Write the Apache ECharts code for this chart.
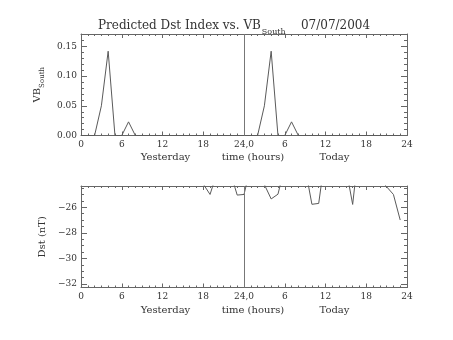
<!DOCTYPE html>
<html>
<head>
<meta charset="utf-8">
<script src="https://cdn.jsdelivr.net/npm/echarts@6/dist/echarts.min.js"></script>
<style>
html,body{margin:0;padding:0;background:#fff;}
#chart{width:453px;height:340px;}
</style>
</head>
<body>
<div id="chart"></div>
<script>
// hours across yesterday (0-23) and today (24-47)
const hours = [0,1,2,3,4,5,6,7,8,9,10,11,12,13,14,15,16,17,18,19,20,21,22,23,
               24,25,26,27,28,29,30,31,32,33,34,35,36,37,38,39,40,41,42,43,44,45,46,47];
// VB_South values
const vbSouth = [0,0,0,0.05,0.142,0,0,0.023,0,0,0,0,0,0,0,0,0,0,0,0,0,0,0,0,
                 0,0,0,0.05,0.142,0,0,0.023,0,0,0,0,0,0,0,0,0,0,0,0,0,0,0,0];
// Predicted Dst (nT)
const dst = [-21,-21,-20,-20,-21,-22,-22,-21,-21,-22,-22,-22,-23,-23,-22,-22,-23,-23,
             -24.18,-25.0,-23.35,-23.5,-23.28,-25.05,
             -25.0,-22.8,-23.5,-24.23,-25.35,-24.98,-22.85,-22.5,-22.5,-22.91,-25.77,-25.7,
             -21.8,-22,-22.5,-22.9,-25.78,-21.0,-22,-23,-23.8,-24.4,-25.0,-27.0];
const xTickLabels = {0:'0',6:'6',12:'12',18:'18',24:'24,0',30:'6',36:'12',42:'18',48:'24'};
const dividerHour = [24];
const title = 'Predicted Dst Index vs. VB';
const titleSub = 'South';
const titleDate = '07/07/2004';
const xNames = ['Yesterday','time (hours)','Today'];

const FONT = 'DejaVu Serif';
const TXT = '#333';
const AX = '#666';
const LN = '#5a5a5a';

function xAxes(grid){
  const base = {
    gridIndex: grid, type:'value', min:0, max:48, interval:6,
    axisLine:{show:true, onZero:false, lineStyle:{color:AX,width:1}},
    axisTick:{show:true, inside:true, length:4, lineStyle:{color:AX}},
    minorTick:{show:true, splitNumber:6, length:2, lineStyle:{color:AX}},
    splitLine:{show:false}
  };
  return [
    Object.assign({}, base, {position:'bottom',
      axisLabel:{show:true, margin:5, fontFamily:FONT, fontSize:9, color:TXT,
        formatter:v=>xTickLabels[v]!==undefined?xTickLabels[v]:''}}),
    Object.assign({}, base, {position:'top', axisLabel:{show:false}})
  ];
}
function yAxes(grid, opts, labelFmt, name){
  const base = Object.assign({
    gridIndex: grid, type:'value',
    axisLine:{show:true, onZero:false, lineStyle:{color:AX,width:1}},
    axisTick:{show:true, inside:true, length:6, lineStyle:{color:AX}},
    splitLine:{show:false}
  }, opts);
  return [
    Object.assign({}, base, {position:'left',
      axisLabel:{show:true, margin:4, fontFamily:FONT, fontSize:9, color:TXT,
        showMinLabel: opts.min===0, showMaxLabel:false, formatter:labelFmt},
      name:name, nameLocation:'middle', nameRotate:90, nameGap:30,
      nameTextStyle:{fontFamily:FONT, fontSize:10, color:TXT,
        rich:{m:{fontFamily:FONT,fontSize:10,color:TXT,lineHeight:12,verticalAlign:'top'},
              s:{fontFamily:FONT,fontSize:7,color:TXT,lineHeight:8,padding:[7,0,0,0],verticalAlign:'top'}}}
    }),
    Object.assign({}, base, {position:'right', axisLabel:{show:false}})
  ];
}

const chart = echarts.init(document.getElementById('chart'), null, {renderer:'canvas'});
const divider = {
  silent:true, symbol:['none','none'], label:{show:false},
  lineStyle:{type:'solid', color:'#777', width:1},
  data: dividerHour.map(h=>({xAxis:h}))
};
chart.setOption({
  animation:false,
  backgroundColor:'#fff',
  title:{
    text:'{m|'+title+'}{s|'+titleSub+'}{m|    '+titleDate+'}',
    left:98, top:20, padding:0,
    textStyle:{fontFamily:FONT, fontSize:12, fontWeight:'normal', color:TXT,
      rich:{m:{fontFamily:FONT,fontSize:12,color:TXT,lineHeight:13,verticalAlign:'top'},
            s:{fontFamily:FONT,fontSize:8,color:TXT,lineHeight:9,padding:[8,0,0,1],verticalAlign:'top'}}}
  },
  grid:[
    {left:81, width:326, top:34, height:101.5},
    {left:81, width:326, top:186, height:101.5}
  ],
  xAxis: xAxes(0).concat(xAxes(1)),
  yAxis: yAxes(0, {min:0, max:0.171, interval:0.05, minorTick:{show:true, splitNumber:5, length:3, lineStyle:{color:AX}}},
                v=>v.toFixed(2), '{m|VB}{s|South}')
        .concat(yAxes(1, {min:-32.27, max:-24.34, splitNumber:5, minorTick:{show:true, splitNumber:4, length:3, lineStyle:{color:AX}}},
                v=>(v<0?'\u2212':'')+Math.abs(v), 'Dst (nT)')),
  graphic: [0,1].flatMap(g=>{
    const y = g===0 ? 157 : 310.5;
    return [
      {type:'text', x:165.5, y:y, style:{text:xNames[0], font:'10px "DejaVu Serif"', fill:TXT, align:'center', verticalAlign:'middle'}},
      {type:'text', x:253, y:y, style:{text:xNames[1], font:'10px "DejaVu Serif"', fill:TXT, align:'center', verticalAlign:'middle'}},
      {type:'text', x:334.5, y:y, style:{text:xNames[2], font:'10px "DejaVu Serif"', fill:TXT, align:'center', verticalAlign:'middle'}}
    ];
  }),
  series:[
    {type:'line', xAxisIndex:0, yAxisIndex:0, data:hours.map((h,i)=>[h,vbSouth[i]]),
     showSymbol:false, symbol:'none', clip:true, lineStyle:{color:LN,width:1}, markLine:divider},
    {type:'line', xAxisIndex:2, yAxisIndex:2, data:hours.map((h,i)=>[h,dst[i]]),
     showSymbol:false, symbol:'none', clip:true, lineStyle:{color:LN,width:1}, markLine:divider}
  ]
});
</script>
</body>
</html>
